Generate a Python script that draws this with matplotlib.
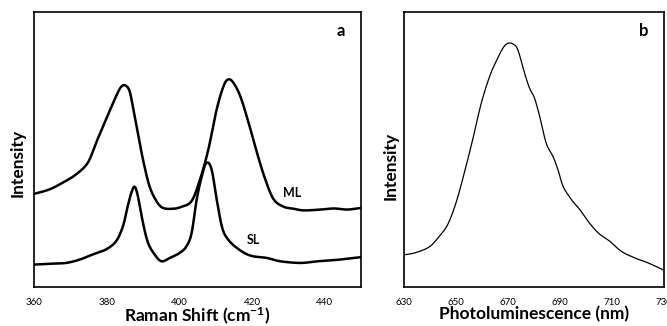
import numpy as np
import matplotlib.pyplot as plt

# panel a: Raman spectra
ml_x = [360, 364.2, 367.8, 371.5, 374.8, 377.1, 379.8, 382.6, 384.0, 385.2, 386.3, 387.2, 388.6,
        390.0, 391.8, 393.7, 395.5, 398.3, 400.6, 403.4, 405.7, 408.0, 410.3, 412.2, 413.5, 414.9,
        416.8, 419.1, 421.4, 423.7, 426.0, 428.8, 431.5, 434.3, 438.9, 442.6, 446.3, 450]
ml_y = [33.8, 35.4, 37.8, 40.8, 45.1, 52.4, 60.8, 69.3, 72.7, 73.2, 71.2, 65.7, 56.0,
        46.3, 36.6, 31.2, 28.7, 28.4, 29.1, 31.2, 39.0, 49.9, 64.5, 73.0, 75.4, 74.2,
        69.3, 59.6, 48.7, 39.0, 31.8, 29.1, 28.4, 27.8, 28.1, 28.5, 28.1, 28.7]

sl_x = [360, 364.2, 368.8, 372.5, 376.2, 379.8, 382.6, 384.5, 385.8, 386.8, 387.7, 388.6, 390.0,
        391.4, 393.2, 395.1, 397.4, 400.2, 402.0, 403.4, 404.8, 406.2, 407.5, 408.9, 410.3, 411.7,
        413.1, 415.8, 419.5, 424.2, 427.8, 433.4, 438.0, 442.6, 450]
sl_y = [8.1, 8.4, 8.7, 9.9, 11.8, 13.6, 16.6, 22.1, 29.3, 34.2, 36.4, 33.0, 23.3,
        16.0, 11.8, 9.3, 10.5, 12.4, 14.8, 19.6, 31.8, 40.2, 45.1, 42.7, 31.8, 22.1,
        17.8, 14.2, 11.4, 10.5, 9.3, 8.7, 9.3, 9.7, 10.8]

# panel b: photoluminescence
pl_x = [630, 633.9, 639.6, 643.5, 646.7, 649.9, 653.1, 656.3, 659.6, 662.8, 665.3, 667.9, 669.8,
        671.8, 673.7, 676.3, 678.2, 680.1, 682.1, 684.6, 687.2, 689.1, 691.1, 694.3, 697.5, 700.7,
        704.6, 709.0, 713.5, 718.7, 723.8, 730]
pl_y = [11.7, 12.3, 14.5, 18.4, 22.6, 30.5, 41.4, 53.4, 66.7, 76.4, 81.9, 86.7, 88.5,
        88.3, 86.1, 77.6, 72.2, 68.6, 61.9, 52.2, 47.4, 42.6, 36.5, 31.7, 28.1, 23.8,
        19.6, 16.6, 12.9, 10.5, 8.7, 6.0]

raman_ticks = [360, 380, 400, 420, 440]
pl_ticks = [630, 650, 670, 690, 710, 730]

plt.rcParams['font.family'] = ['Lato', 'DejaVu Sans']
plt.rcParams['mathtext.fontset'] = 'custom'
plt.rcParams['mathtext.rm'] = 'Lato:bold'
plt.rcParams['mathtext.default'] = 'rm'


def smooth(x, y, n=12):
    # catmull-rom through the read points
    x = np.asarray(x, float)
    y = np.asarray(y, float)
    px = np.concatenate([[2 * x[0] - x[1]], x, [2 * x[-1] - x[-2]]])
    py = np.concatenate([[2 * y[0] - y[1]], y, [2 * y[-1] - y[-2]]])
    t = np.linspace(0, 1, n, endpoint=False)
    xs, ys = [], []
    for i in range(1, len(px) - 2):
        for p, out in ((px, xs), (py, ys)):
            p0, p1, p2, p3 = p[i - 1], p[i], p[i + 1], p[i + 2]
            out.append(0.5 * (2 * p1 + (-p0 + p2) * t + (2 * p0 - 5 * p1 + 4 * p2 - p3) * t ** 2
                              + (-p0 + 3 * p1 - 3 * p2 + p3) * t ** 3))
    xs.append([x[-1]])
    ys.append([y[-1]])
    return np.concatenate(xs), np.concatenate(ys)


fig = plt.figure(figsize=(6.67, 3.26), dpi=100)
ax1 = fig.add_axes([0.051, 0.12, 0.490, 0.844])
ax2 = fig.add_axes([0.606, 0.12, 0.390, 0.844])

ax1.plot(*smooth(ml_x, ml_y), color='black', lw=1.8)
ax1.plot(*smooth(sl_x, sl_y), color='black', lw=1.8)
ax1.text(431, 34, 'ML', fontsize=9, fontweight='bold', ha='center', va='center')
ax1.text(420.5, 17, 'SL', fontsize=9, fontweight='bold', ha='center', va='center')
ax1.text(444.6, 93, 'a', fontsize=12, fontweight='bold', ha='center', va='center')
ax1.set_xlim(360, 450)
ax1.set_xticks(raman_ticks)
ax1.set_xlabel('Raman Shift (cm$^{-1}$)', fontsize=12.5, fontweight='bold')

ax2.plot(*smooth(pl_x, pl_y), color='black', lw=0.9)
ax2.text(722, 93, 'b', fontsize=12, fontweight='bold', ha='center', va='center')
ax2.set_xlim(630, 730)
ax2.set_xticks(pl_ticks)
ax2.set_xlabel('Photoluminescence (nm)', fontsize=12.5, fontweight='bold')

for ax in (ax1, ax2):
    ax.set_ylim(0, 100)
    ax.set_yticks([])
    ax.set_ylabel('Intensity', fontsize=12.5, fontweight='bold')
    ax.tick_params(axis='x', length=0, labelsize=7, pad=8)
    for s in ax.spines.values():
        s.set_linewidth(1.2)
    ax.xaxis.set_label_coords(0.5, -0.068)

ax1.yaxis.set_label_coords(-0.025, 0.45)
ax2.yaxis.set_label_coords(-0.023, 0.44)

fig.savefig('out.png', dpi=100)
